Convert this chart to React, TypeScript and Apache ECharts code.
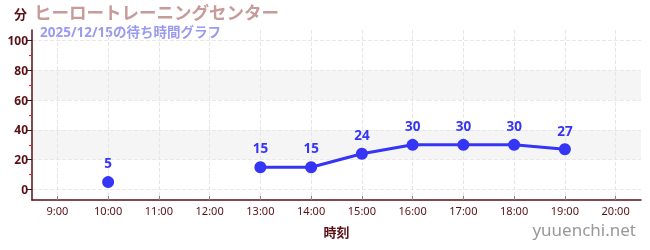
import React, { useEffect, useRef } from "react";
import * as echarts from "echarts";

const hours = [9, 10, 11, 12, 13, 14, 15, 16, 17, 18, 19, 20];
const waits: (number | null)[] = [null, 5, null, null, 15, 15, 24, 30, 30, 30, 27, null];
const yTicks = [0, 20, 40, 60, 80, 100];
const yMinorTicks = [10, 30, 50, 70, 90];
const titleText = "ヒーロートレーニングセンター";
const subText = "2025/12/15の待ち時間グラフ";
const yName = "分";
const xName = "時刻";
const watermark = "yuuenchi.net";

export default function App() {
  const ref = useRef<HTMLDivElement>(null);
  useEffect(() => {
    if (!ref.current) return;
    const chart = echarts.init(ref.current, null, { renderer: "svg" });
    const maroon = "#5a0f14";
    const font = "'Noto Sans', 'Noto Sans CJK JP', sans-serif";
    const gridLeft = 32;
    const gridRight = 9;
    const plotWidth = 650 - gridLeft - gridRight;
    chart.setOption({
      animation: false,
      textStyle: { fontFamily: font },
      grid: { left: gridLeft, right: gridRight, top: 30, bottom: 50 },
      xAxis: {
        type: "value",
        min: 8.5,
        max: 20.5,
        name: xName,
        nameLocation: "middle",
        nameGap: 25,
        nameTextStyle: { color: maroon, fontWeight: "bold", fontSize: 13, fontFamily: font },
        axisLine: { show: true, onZero: false, lineStyle: { color: maroon, width: 1.5 } },
        axisTick: { show: true, inside: true, length: 4, customValues: hours, lineStyle: { color: "#888" } },
        axisLabel: {
          customValues: hours,
          formatter: (v: number) => `${v}:00`,
          color: maroon,
          fontSize: 11,
          fontFamily: "'Liberation Sans Narrow', 'Noto Sans', sans-serif",
          margin: 5,
        },
        splitLine: {
          show: true,
          lineStyle: { color: "#e6e6e6", type: "dashed" },
        },
      },
      yAxis: [
        {
          type: "value",
          min: -7,
          max: 107,
          position: "left",
          axisLine: { show: true, lineStyle: { color: maroon, width: 1.5 } },
          axisTick: { show: true, length: 5, customValues: yTicks, lineStyle: { color: "#222" } },
          axisLabel: { customValues: yTicks, color: maroon, fontSize: 12, fontWeight: "bold", margin: 4 },
          splitLine: { show: true, lineStyle: { color: "#e8e8e8", type: "dashed" } },
          splitArea: { show: true, areaStyle: { color: ["rgba(0,0,0,0)", "#f5f5f5"] } },
        },
        {
          type: "value",
          min: -7,
          max: 107,
          position: "right",
          offset: -plotWidth,
          axisLine: { show: false },
          axisTick: { show: true, inside: true, length: 3, customValues: yMinorTicks, lineStyle: { color: "#e02020" } },
          axisLabel: { show: false },
          splitLine: { show: false },
        },
      ],
      graphic: [
        { type: "text", left: 14, top: 7, style: { text: yName, fill: maroon, font: `bold 13px ${font}` } },
        { type: "text", left: 34, top: 3, style: { text: titleText, fill: "#c89a9a", font: `bold 17.5px ${font}`, lineHeight: 18 } },
        { type: "text", left: 40, top: 24, style: { text: subText, fill: "#9a9af0", font: `bold 13.5px ${font}`, lineHeight: 15 } },
        { type: "text", right: 14, top: 221, style: { text: watermark, fill: "#999", font: `17px ${font}` } },
      ],
      series: [
        {
          type: "line",
          data: hours.map((h, i) => [h, waits[i] === null ? "-" : waits[i]]),
          connectNulls: false,
          symbol: "circle",
          symbolSize: 12,
          itemStyle: { color: "#3535f5" },
          lineStyle: { color: "#3535f5", width: 3 },
          label: {
            show: true,
            position: "top",
            distance: 6,
            color: "#3535f5",
            fontWeight: "bold",
            fontSize: 13.5,
            fontFamily: font,
          },
        },
      ],
    });
    return () => chart.dispose();
  }, []);
  return <div ref={ref} style={{ position: "fixed", left: 0, top: 0, width: 650, height: 250 }} />;
}
